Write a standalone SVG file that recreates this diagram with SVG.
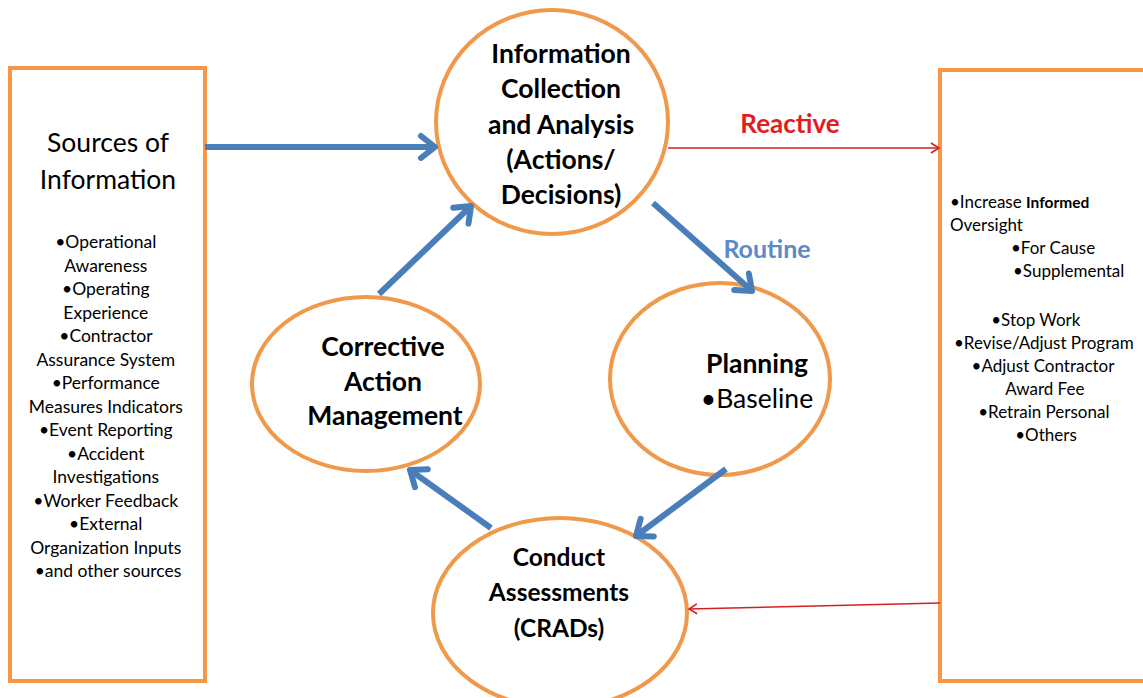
<svg xmlns="http://www.w3.org/2000/svg" width="1143" height="698" viewBox="0 0 1143 698">
<defs>
<style>
.box{fill:#fff;stroke:#f79646;stroke-width:4}
.ell{fill:#fff;stroke:#f0994a;stroke-width:4}
.t{font-family:Lato,"Open Sans","Liberation Sans",sans-serif;fill:#000;text-anchor:middle}
.b{font-weight:bold}
.blue{stroke:#4a7ebb;stroke-width:6;fill:none}
.red{stroke:#d42020;stroke-width:1.5;fill:none}
</style>
<marker id="ab" markerUnits="userSpaceOnUse" markerWidth="30" markerHeight="30" refX="20" refY="15" orient="auto" viewBox="0 0 30 30">
<path d="M6,4 L20,15 L6,26" fill="none" stroke="#4a7ebb" stroke-width="6" stroke-linecap="round" stroke-linejoin="round"/>
</marker>
<marker id="ar" markerUnits="userSpaceOnUse" markerWidth="16" markerHeight="16" refX="13" refY="8" orient="auto" viewBox="0 0 16 16">
<path d="M5,3 L13,8 L5,13" fill="none" stroke="#d42020" stroke-width="1.6"/>
</marker>
</defs>
<rect width="1143" height="698" fill="#fff"/>

<g id="sources">
<rect class="box" x="10" y="68" width="195" height="613"/>
<text class="t" font-size="26.5"><tspan x="108" y="152">Sources of</tspan><tspan x="108" y="189">Information</tspan></text>
<text class="t" font-size="17.5">
<tspan x="108" y="248">•Operational</tspan>
<tspan x="108" y="271.5">Awareness</tspan>
<tspan x="108" y="295">•Operating</tspan>
<tspan x="108" y="318.5">Experience</tspan>
<tspan x="108" y="342">•Contractor</tspan>
<tspan x="108" y="365.5">Assurance System</tspan>
<tspan x="108" y="389">•Performance</tspan>
<tspan x="108" y="412.5">Measures Indicators</tspan>
<tspan x="108" y="436">•Event Reporting</tspan>
<tspan x="108" y="459.5">•Accident</tspan>
<tspan x="108" y="483">Investigations</tspan>
<tspan x="108" y="506.5">•Worker Feedback</tspan>
<tspan x="108" y="530">•External</tspan>
<tspan x="108" y="553.5">Organization Inputs</tspan>
<tspan x="108" y="577">•and other sources</tspan>
</text>
</g>

<g id="actions">
<rect class="box" x="940" y="70" width="210" height="611"/>
<text class="t" font-size="17" style="text-anchor:start"><tspan x="950" y="208">•Increase <tspan class="b" font-size="15.5">Informed</tspan></tspan><tspan x="950" y="231">Oversight</tspan><tspan x="1011" y="254">•For Cause</tspan><tspan x="1013" y="277">•Supplemental</tspan></text>
<text class="t" font-size="17">
<tspan x="1038" y="326">•Stop Work</tspan>
<tspan x="1046" y="349">•Revise/Adjust Program</tspan>
<tspan x="1045" y="372">•Adjust Contractor</tspan>
<tspan x="1047" y="395">Award Fee</tspan>
<tspan x="1046" y="418">•Retrain Personal</tspan>
<tspan x="1046" y="441">•Others</tspan>
</text>
</g>

<g id="info">
<ellipse class="ell" cx="552" cy="122" rx="116" ry="112"/>
<text class="t b" font-size="26.5"><tspan x="561" y="63">Information</tspan><tspan x="561" y="98">Collection</tspan><tspan x="561" y="134">and Analysis</tspan><tspan x="561" y="169">(Actions/</tspan><tspan x="561" y="204">Decisions)</tspan></text>
</g>

<g id="planning">
<ellipse class="ell" cx="720" cy="379" rx="110" ry="96"/>
<text class="t b" font-size="26.5" x="757" y="373">Planning</text>
<text class="t" font-size="26.5" x="757" y="408">•Baseline</text>
</g>

<g id="corrective">
<ellipse class="ell" cx="366" cy="384" rx="114" ry="87"/>
<text class="t b" font-size="26.5"><tspan x="383" y="356">Corrective</tspan><tspan x="383" y="391">Action</tspan><tspan x="385" y="425">Management</tspan></text>
</g>

<g id="conduct">
<ellipse class="ell" cx="560" cy="613" rx="127" ry="95"/>
<text class="t b" font-size="24.5"><tspan x="559" y="566">Conduct</tspan><tspan x="559" y="601">Assessments</tspan><tspan x="559" y="637">(CRADs)</tspan></text>
</g>

<g id="connectors">
<line class="blue" x1="205" y1="147" x2="435" y2="147" marker-end="url(#ab)"/>
<line class="blue" x1="379" y1="294" x2="471" y2="206" marker-end="url(#ab)"/>
<line class="blue" x1="653" y1="203" x2="752" y2="291" marker-end="url(#ab)"/>
<line class="blue" x1="726" y1="469" x2="636" y2="536" marker-end="url(#ab)"/>
<line class="blue" x1="491" y1="528" x2="410" y2="470" marker-end="url(#ab)"/>
<line class="red" x1="668" y1="148" x2="939" y2="148" marker-end="url(#ar)"/>
<line class="red" x1="940" y1="603" x2="689" y2="609" marker-end="url(#ar)"/>
<text class="t b" font-size="26" style="fill:#e31c1c" x="790" y="133">Reactive</text>
<text class="t b" font-size="25" style="fill:#5b8ac6" x="767" y="258">Routine</text>
</g>
</svg>
